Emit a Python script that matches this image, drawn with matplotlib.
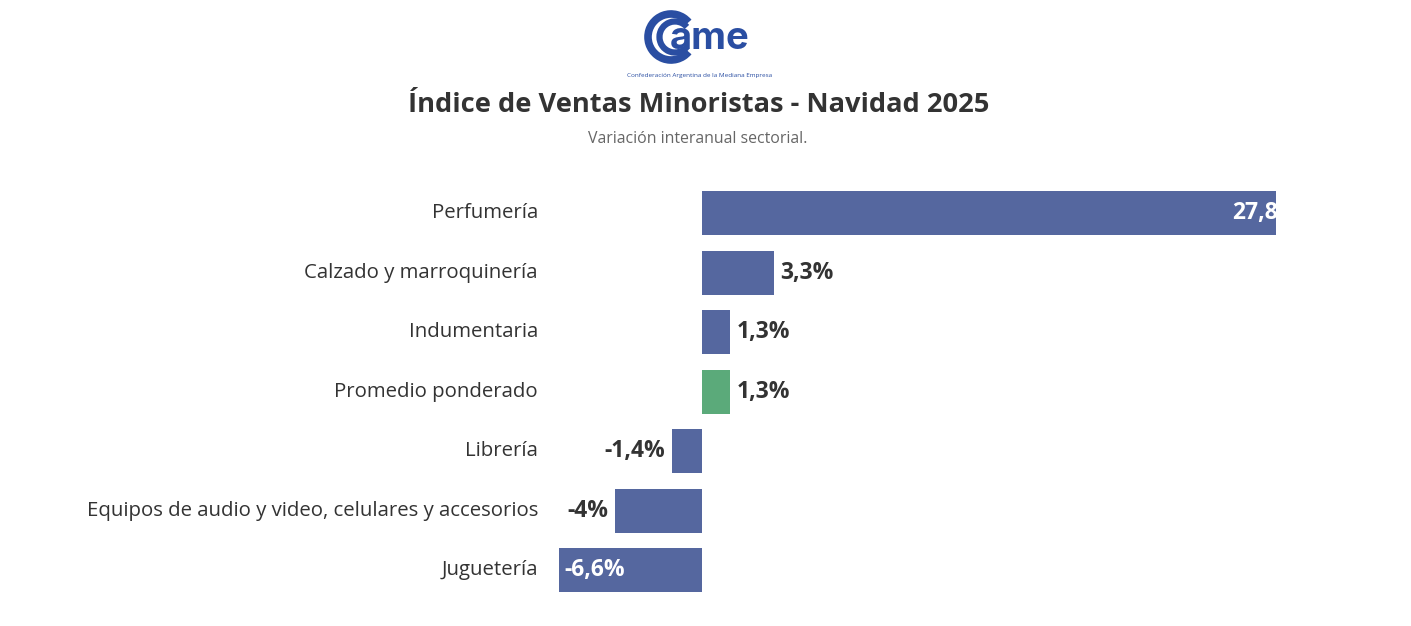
import matplotlib.pyplot as plt
from matplotlib.patches import Arc

# datos
categorias = [
    'Perfumería',
    'Calzado y marroquinería',
    'Indumentaria',
    'Promedio ponderado',
    'Librería',
    'Equipos de audio y video, celulares y accesorios',
    'Juguetería',
]
valores = [27.8, 3.3, 1.3, 1.3, -1.4, -4.0, -6.6]
etiquetas = ['27,8%', '3,3%', '1,3%', '1,3%', '-1,4%', '-4%', '-6,6%']

AZUL = '#55679f'
VERDE = '#5baa7a'
TEXTO = '#333333'

plt.rcParams['font.family'] = ['Open Sans', 'DejaVu Sans']

W, H = 1411, 626
fig = plt.figure(figsize=(W / 100, H / 100), dpi=100)
fig.patch.set_facecolor('white')

# eje principal en pixeles: x 558..1276, barras y 183..600
x0, x1 = 558, 1276
y_top, y_bot = 183.5, 600
ax = fig.add_axes([x0 / W, 1 - y_bot / H, (x1 - x0) / W, (y_bot - y_top) / H])
px_por_pct = 21.7
xmin = -(702 - x0) / px_por_pct
xmax = (x1 - 702) / px_por_pct
ax.set_xlim(xmin, xmax)
n = len(categorias)
ax.set_ylim(n - 0.5, -0.5)

colores = [VERDE if c == 'Promedio ponderado' else AZUL for c in categorias]
ax.barh(range(n), valores, height=0.74, color=colores, clip_on=True)

fs_val = 16.5
for i, (v, lab) in enumerate(zip(valores, etiquetas)):
    if v > 10:
        ax.text(v - 0.3, i, lab, ha='right', va='center', color='white',
                fontsize=fs_val, fontweight='bold', clip_on=True)
    elif v < -5:
        ax.text(v + 0.25, i, lab, ha='left', va='center', color='white',
                fontsize=fs_val, fontweight='bold')
    elif v >= 0:
        ax.text(v + 0.3, i, lab, ha='left', va='center', color=TEXTO,
                fontsize=fs_val, fontweight='bold')
    else:
        ax.text(v - 0.3, i, lab, ha='right', va='center', color=TEXTO,
                fontsize=fs_val, fontweight='bold')

# etiquetas de categorias
for i, c in enumerate(categorias):
    ax.annotate(c, xy=(538 / W, 0), xycoords=('figure fraction', 'data'),
                xytext=(538 / W, i), textcoords=('figure fraction', 'data'),
                ha='right', va='center', fontsize=14.7, color=TEXTO)

ax.axis('off')

# titulo y subtitulo
fig.text(699 / W, 1 - 105 / H, 'Índice de Ventas Minoristas - Navidad 2025',
         ha='center', va='center', fontsize=19.6, fontweight='bold', color=TEXTO)
fig.text(698 / W, 1 - 139 / H, 'Variación interanual sectorial.',
         ha='center', va='center', fontsize=11.4, color='#666666')

# logo
lax = fig.add_axes([600 / W, 1 - 82 / H, 200 / W, 72 / H])
lax.set_xlim(0, 200)
lax.set_ylim(0, 72)
lax.set_aspect('equal')
lax.axis('off')
azul_logo = '#2a4ea2'
lax.add_patch(Arc((71, 45), 46, 46, theta1=40, theta2=320, lw=5.5, color=azul_logo))
lax.add_patch(Arc((75, 45), 31, 31, theta1=40, theta2=320, lw=4.5, color=azul_logo))
lax.text(70, 43, 'ame', ha='left', va='center', fontsize=27.5, fontweight='bold',
         color=azul_logo, family=['Inter', 'DejaVu Sans'])
lax.text(100, 7, 'Confederación Argentina de la Mediana Empresa', ha='center',
         va='center', fontsize=4.6, color=azul_logo)

fig.savefig('out.png', dpi=100, facecolor='white')
